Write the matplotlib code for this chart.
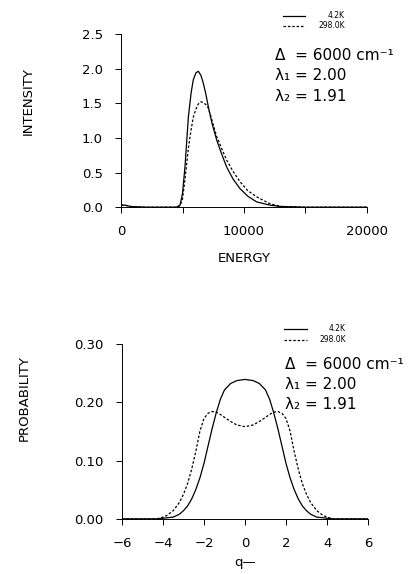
import matplotlib.pyplot as plt

# --- emission spectrum (top panel) ---
energy = [0, 300, 800, 2000, 4000, 4500, 4800, 5000, 5200, 5475, 5700, 5880,
          6100, 6290, 6500, 6690, 6900, 7100, 7400, 7780, 8200, 8590, 9100,
          9670, 10300, 11030, 12110, 13000, 15000, 20000]
int_4k = [0.03, 0.03, 0.01, 0.0, 0.0, 0.0, 0.03, 0.2, 0.58, 1.3, 1.65, 1.84,
          1.94, 1.96, 1.9, 1.79, 1.63, 1.45, 1.21, 0.97, 0.76, 0.58, 0.41,
          0.27, 0.16, 0.077, 0.03, 0.01, 0.0, 0.0]
int_298k = [0.03, 0.03, 0.01, 0.0, 0.0, 0.0, 0.02, 0.12, 0.4, 0.85, 1.12, 1.3,
            1.42, 1.49, 1.52, 1.51, 1.48, 1.43, 1.25, 1.02, 0.84, 0.68, 0.52,
            0.37, 0.24, 0.15, 0.05, 0.012, 0.0, 0.0]

# --- probability distribution (bottom panel) ---
q = [-6, -4.3, -4.0, -3.8, -3.5, -3.2, -3.0, -2.8, -2.6, -2.4, -2.2, -2.0,
     -1.8, -1.6, -1.4, -1.2, -1.0, -0.7, -0.4, 0,
     0.4, 0.7, 1.0, 1.2, 1.4, 1.6, 1.8, 2.0, 2.2, 2.4, 2.6, 2.8, 3.0,
     3.2, 3.5, 3.8, 4.0, 4.3, 6]
prob_4k = [0.0, 0.0, 0.001, 0.002, 0.003, 0.008, 0.014, 0.022, 0.034, 0.05,
           0.07, 0.095, 0.125, 0.155, 0.182, 0.205, 0.221, 0.232, 0.237, 0.239,
           0.237, 0.232, 0.221, 0.205, 0.182, 0.155, 0.125, 0.095, 0.07, 0.05,
           0.034, 0.022, 0.014, 0.008, 0.003, 0.002, 0.001, 0.0, 0.0]
prob_298k = [0.0, 0.0, 0.003, 0.006, 0.014, 0.028, 0.042, 0.06, 0.085, 0.115,
             0.15, 0.172, 0.181, 0.184, 0.183, 0.179, 0.174, 0.167, 0.161, 0.158,
             0.161, 0.167, 0.174, 0.179, 0.183, 0.184, 0.181, 0.172, 0.15, 0.115,
             0.085, 0.06, 0.042, 0.028, 0.014, 0.006, 0.003, 0.0, 0.0]

param_lines = ["\u0394  = 6000 cm\u207b\u00b9", "\u03bb\u2081 = 2.00", "\u03bb\u2082 = 1.91"]

plt.rcParams["font.family"] = "DejaVu Sans"

fig = plt.figure(figsize=(4.09, 5.74), dpi=100)
ax1 = fig.add_axes([0.296, 0.639, 0.601, 0.302])
ax2 = fig.add_axes([0.298, 0.096, 0.602, 0.305])
DASH = (0, (2, 1.5))


def style(ax):
    for s in ("top", "right"):
        ax.spines[s].set_visible(False)
    for s in ("left", "bottom"):
        ax.spines[s].set_linewidth(0.7)
    ax.tick_params(direction="out", length=4, width=0.7, pad=9, labelsize=9.5)


def legend_and_text(ax, y_leg, x_txt, y_txt, dy):
    ax.plot([0.66, 0.75], [y_leg[0], y_leg[0]], transform=ax.transAxes,
            color="black", linewidth=0.9, clip_on=False)
    ax.plot([0.66, 0.75], [y_leg[1], y_leg[1]], transform=ax.transAxes,
            color="black", linewidth=0.9, linestyle=DASH, clip_on=False)
    ax.text(0.91, y_leg[0], "4.2K", transform=ax.transAxes, fontsize=5.5,
            ha="right", va="center")
    ax.text(0.91, y_leg[1], "298.0K", transform=ax.transAxes, fontsize=5.5,
            ha="right", va="center")
    for i, line in enumerate(param_lines):
        ax.text(x_txt, y_txt - i * dy, line, transform=ax.transAxes,
                fontsize=11, ha="left", va="center")


# top panel
ax1.plot(energy, int_4k, color="black", linewidth=0.9)
ax1.plot(energy, int_298k, color="black", linewidth=0.9, linestyle=DASH)
ax1.set_xlim(0, 20000)
ax1.set_ylim(0, 2.5)
ax1.set_xticks([0, 5000, 10000, 15000, 20000])
ax1.set_xticklabels(["0", "", "10000", "", "20000"])
ax1.set_yticks([0, 0.5, 1.0, 1.5, 2.0, 2.5])
ax1.set_yticklabels(["0.0", "0.5", "1.0", "1.5", "2.0", "2.5"])
style(ax1)
ax1.set_xlabel("ENERGY", fontsize=9.5)
ax1.set_ylabel("INTENSITY", fontsize=9.5)
ax1.xaxis.set_label_coords(0.5, -0.26)
ax1.yaxis.set_label_coords(-0.35, 0.61)
legend_and_text(ax1, (1.104, 1.046), 0.626, 0.873, 0.116)

# bottom panel
ax2.plot(q, prob_4k, color="black", linewidth=0.9)
ax2.plot(q, prob_298k, color="black", linewidth=0.9, linestyle=DASH)
ax2.set_xlim(-6, 6)
ax2.set_ylim(0, 0.30)
ax2.set_xticks([-6, -4, -2, 0, 2, 4, 6])
ax2.set_xticklabels(["\u22126", "\u22124", "\u22122", "0", "2", "4", "6"])
ax2.set_yticks([0, 0.10, 0.20, 0.30])
ax2.set_yticklabels(["0.00", "0.10", "0.20", "0.30"])
style(ax2)
ax2.set_xlabel("q\u2014", fontsize=9.5)
ax2.set_ylabel("PROBABILITY", fontsize=9.5)
ax2.xaxis.set_label_coords(0.5, -0.21)
ax2.yaxis.set_label_coords(-0.37, 0.69)
legend_and_text(ax2, (1.086, 1.023), 0.663, 0.88, 0.114)

fig.savefig("out.png", dpi=100)
